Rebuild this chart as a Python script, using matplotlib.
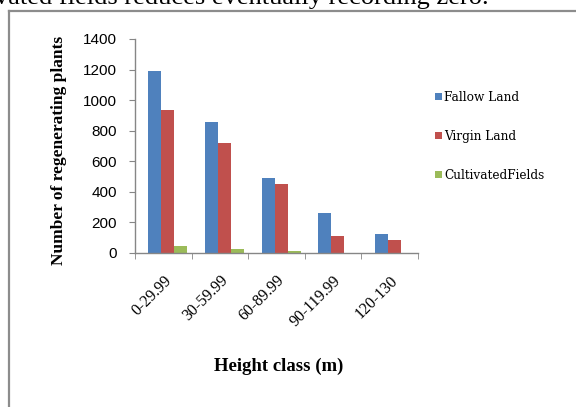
import matplotlib
matplotlib.use('Agg')
import matplotlib.pyplot as plt
import numpy as np
from matplotlib.lines import Line2D

# data
classes = ['0-29.99', '30-59.99', '60-89.99', '90-119.99', '120-130']
fallow = [1188, 860, 490, 264, 122]
virgin = [935, 717, 449, 112, 87]
cultivated = [45, 26, 12, 0, 0]
series_names = ['Fallow Land', 'Virgin Land', 'CultivatedFields']
series_colors = ['#4F81BD', '#C0504D', '#9BBB59']

serif = ['Liberation Serif', 'DejaVu Serif']
sans = ['Liberation Sans', 'DejaVu Sans']

fig = plt.figure(figsize=(5.76, 4.07), dpi=100)

# text of the page above the chart, cut off at the top
fig.text(-0.009, 0.990, 'vated fields reduces eventually recording zero.',
         family=serif, fontsize=19, va='baseline', ha='left')

# grey frame of the embedded chart (only left and top visible)
fig.add_artist(Line2D([9 / 576, 9 / 576], [0, 1 - 11 / 407], color='#8c8c8c', lw=1.6))
fig.add_artist(Line2D([9 / 576, 1], [1 - 11 / 407, 1 - 11 / 407], color='#8c8c8c', lw=1.6))

ax = fig.add_axes([135 / 576, 1 - 253 / 407, (418 - 135) / 576, (253 - 39) / 407])

x = np.arange(len(classes))
w = 0.23
for i, (vals, name, col) in enumerate(zip([fallow, virgin, cultivated], series_names, series_colors)):
    ax.bar(x + (i - 1) * w + 0.08, vals, width=w, color=col, label=name, zorder=2)

ax.set_xlim(-0.5, len(classes) - 0.5)
ax.set_ylim(0, 1400)
ax.set_yticks(range(0, 1401, 200))
ax.set_yticklabels([str(v) for v in range(0, 1401, 200)], family=sans, fontsize=11)

ax.set_xticks(x)
ax.set_xticklabels(classes, rotation=45, ha='right', rotation_mode='anchor',
                   family=serif, fontsize=11.5)
ax.tick_params(axis='x', which='major', length=0, pad=14)
ax.set_xticks(np.arange(-0.5, len(classes)), minor=True)
ax.tick_params(axis='x', which='minor', length=4, color='#868686', direction='out')
ax.tick_params(axis='y', length=4, color='#868686', direction='out', pad=9)

for s in ['top', 'right']:
    ax.spines[s].set_visible(False)
for s in ['left', 'bottom']:
    ax.spines[s].set_color('#868686')
    ax.spines[s].set_linewidth(1.0)

ax.set_ylabel('Number of regenerating plants', family=serif, fontsize=12.5,
              fontweight='bold')
ax.yaxis.set_label_coords(-0.24, 0.477)
ax.set_xlabel('Height class (m)', family=serif, fontsize=13.5, fontweight='bold')
ax.xaxis.set_label_coords(0.509, -0.49)

leg = fig.legend(loc='upper left', bbox_to_anchor=(430 / 576, 1 - 86 / 407),
                 frameon=False, prop={'family': ['DejaVu Serif'], 'size': 8.7},
                 handlelength=0.6, handleheight=0.6, handletextpad=0.2,
                 labelspacing=2.15, borderaxespad=0)

fig.savefig('out.png', dpi=100)
